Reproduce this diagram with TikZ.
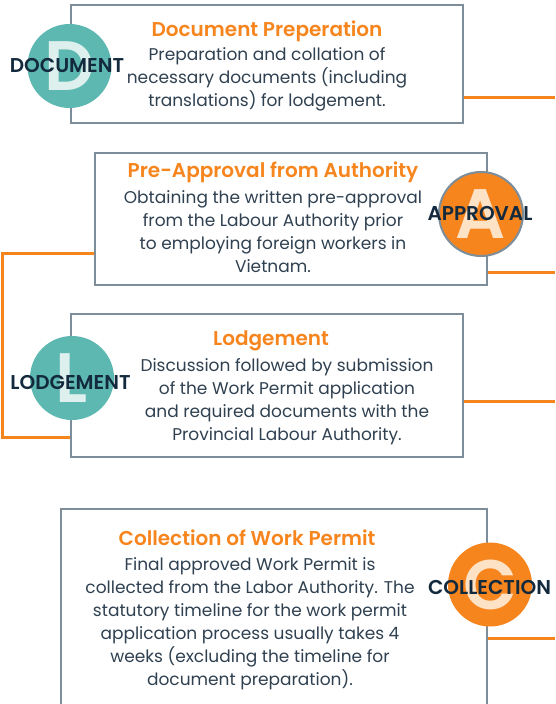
\documentclass[tikz,border=0pt]{standalone}
\usepackage{fontspec}
\setmainfont{Poppins}[BoldFont={Poppins SemiBold}]
\usepackage{tikz}
\usepackage{xcolor}
\definecolor{accent}{HTML}{F7851E}
\definecolor{sea}{HTML}{5DB8B1}
\definecolor{seapale}{HTML}{DDF0EE}
\definecolor{peach}{HTML}{FDE2C6}
\definecolor{frame}{HTML}{7D8E9A}
\definecolor{ink}{HTML}{2F4050}
\definecolor{navy}{HTML}{13293D}
\tikzset{box/.style={draw=frame,line width=1.5pt,rectangle,minimum width=392pt}}
\tikzset{title/.style={text=accent,font=\fontsize{20}{23}\selectfont\bfseries}}
\tikzset{body/.style={text=ink,align=center,font=\fontsize{17}{23}\selectfont}}
\tikzset{badge/.style={circle,minimum size=84pt,inner sep=0pt}}
\tikzset{letter/.style={font=\fontsize{70}{70}\selectfont\bfseries}}
\tikzset{tag/.style={text=navy,font=\fontsize{20}{20}\selectfont\bfseries}}
\tikzset{link/.style={draw=accent,line width=3pt}}
\begin{document}
\begin{tikzpicture}[x=1pt,y=-1pt]
    \clip (0,0) rectangle (555,704);

    \node[box,minimum height=118pt] (doc) at (267,64) {};
    \node[box,minimum height=132pt] (appr) at (291,219) {};
    \node[box,minimum height=143pt] (lodg) at (267,385.5) {};
    \node[box,minimum width=426pt,minimum height=231pt] (coll) at (274,624.5) {};

    \node[title] (doctitle) at (267,31) {Document Preperation};
    \node[body] (doctext) at (267,79) {Preparation and collation of\\necessary documents (including\\translations) for lodgement.};

    \node[title] (apprtitle) at (273,172) {Pre-Approval from Authority};
    \node[body] (apprtext) at (273,231.5) {Obtaining the written pre-approval\\from the Labour Authority prior\\to employing foreign workers in\\Vietnam.};

    \node[title] (lodgtitle) at (271,341) {Lodgement};
    \node[body] (lodgtext) at (287,402) {Discussion followed by submission\\of the Work Permit application\\and required documents with the\\Provincial Labour Authority.};

    \node[title] (colltitle) at (247,538) {Collection of Work Permit};
    \node[body] (colltext) at (250,624) {Final approved Work Permit is\\collected from the Labor Authority. The\\statutory timeline for the work permit\\application process usually takes 4\\weeks (excluding the timeline for\\document preparation).};

    \node[badge,fill=sea] (dcirc) at (69.5,66) {};
    \node[letter,text=seapale] (dletter) at (dcirc) {D};
    \node[tag] (dtag) at (67,65) {DOCUMENT};

    \node[badge,fill=accent,draw=frame,line width=2pt] (acirc) at (481,214) {};
    \node[letter,text=peach] (aletter) at (acirc) {A};
    \node[tag] (atag) at (480,213) {APPROVAL};

    \node[badge,fill=sea] (lcirc) at (72,378) {};
    \node[letter,text=seapale] (lletter) at (lcirc) {L};
    \node[tag] (ltag) at (70.5,382) {LODGEMENT};

    \node[badge,fill=accent] (ccirc) at (490,584.5) {};
    \node[letter,text=peach] (cletter) at (ccirc) {C};
    \node[tag] (ctag) at (489.5,587) {COLLECTION};

    \coordinate (e1) at (555,97);
    \coordinate (e2) at (555,272);
    \coordinate (e3) at (555,401);
    \coordinate (e4) at (555,638);
    \coordinate (l1) at (2,253);
    \coordinate (l2) at (2,437);

    \draw[link] (e1 -| doc.east) -- (e1);
    \draw[link] (e2 -| appr.east) -- (e2);
    \draw[link] (e3 -| lodg.east) -- (e3);
    \draw[link] (e4 -| coll.east) -- (e4);
    \draw[link] (l1 -| appr.west) -- (l1) -- (l2) -- (l2 -| lodg.west);
\end{tikzpicture}
\end{document}
